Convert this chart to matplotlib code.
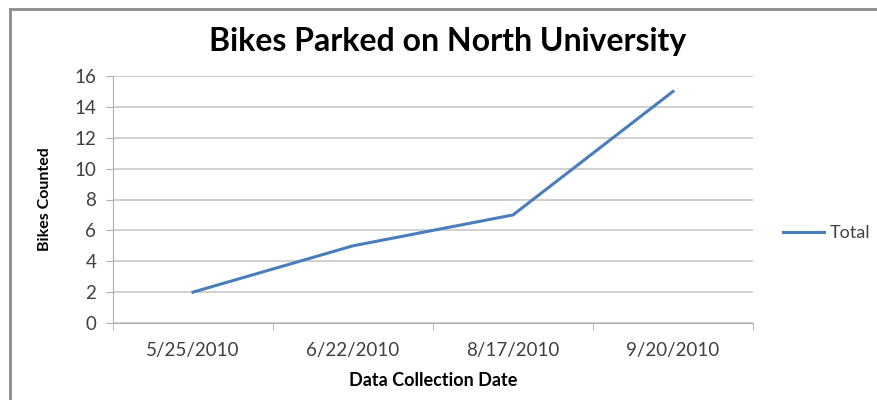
import matplotlib
matplotlib.use("Agg")
import matplotlib.pyplot as plt
from matplotlib.lines import Line2D

# data
dates = ["5/25/2010", "6/22/2010", "8/17/2010", "9/20/2010"]
totals = [2, 5, 7, 15]
y_ticks = [0, 2, 4, 6, 8, 10, 12, 14, 16]

line_color = "#4a7ebb"
grid_color = "#c8c8c8"
text_color = "#404040"

plt.rcParams['font.family'] = ['Lato', 'DejaVu Sans']

fig = plt.figure(figsize=(8.77, 4.0), dpi=100)
ax = fig.add_axes([113 / 877, 1 - 323 / 400, 640 / 877, 247 / 400])

x = list(range(len(dates)))
ax.plot(x, totals, color=line_color, linewidth=2.2, label="Total")

ax.set_xlim(-0.5, len(dates) - 0.5)
ax.set_ylim(0, 16)
ax.set_yticks(y_ticks)
ax.set_yticklabels([str(v) for v in y_ticks])
ax.set_xticks(x)
ax.set_xticklabels(dates)
ax.set_xticks([i - 0.5 for i in range(len(dates) + 1)], minor=True)

ax.grid(axis="y", color=grid_color, linewidth=1.2)
ax.set_axisbelow(True)
for side in ["top", "right"]:
    ax.spines[side].set_visible(False)
ax.spines["left"].set_color("#b0b0b0")
ax.spines["bottom"].set_color("#b0b0b0")
ax.tick_params(axis="y", length=5, color="#b0b0b0", labelsize=13.5,
               labelcolor=text_color, pad=7)
ax.tick_params(axis="x", which="major", length=0, labelsize=13.5,
               labelcolor=text_color, pad=14)
ax.tick_params(axis="x", which="minor", length=5, color="#b0b0b0")

ax.set_xlabel("Data Collection Date", fontsize=13, fontweight="bold",
              labelpad=9, color="black")
ax.set_ylabel("Bikes Counted", fontsize=11.5, fontweight="bold",
              family=['Liberation Sans Narrow', 'DejaVu Sans Condensed', 'Lato'],
              labelpad=16)

fig.text(448 / 877, 1 - 41 / 400, "Bikes Parked on North University",
         ha="center", va="center", fontsize=23, fontweight="bold")

leg = ax.legend(loc="center left", bbox_to_anchor=(1.021, 1 - (233 - 76) / 247),
                frameon=False, fontsize=13, handlelength=2.3,
                handletextpad=0.3)
for t in leg.get_texts():
    t.set_color(text_color)

# chart frame (top and left edges visible)
fig.add_artist(Line2D([10 / 877, 1], [1 - 9 / 400] * 2, color="#8c8c8c",
                      linewidth=2, transform=fig.transFigure))
fig.add_artist(Line2D([10 / 877] * 2, [0, 1 - 9 / 400], color="#8c8c8c",
                      linewidth=2, transform=fig.transFigure))

fig.savefig("out.png", dpi=100)
